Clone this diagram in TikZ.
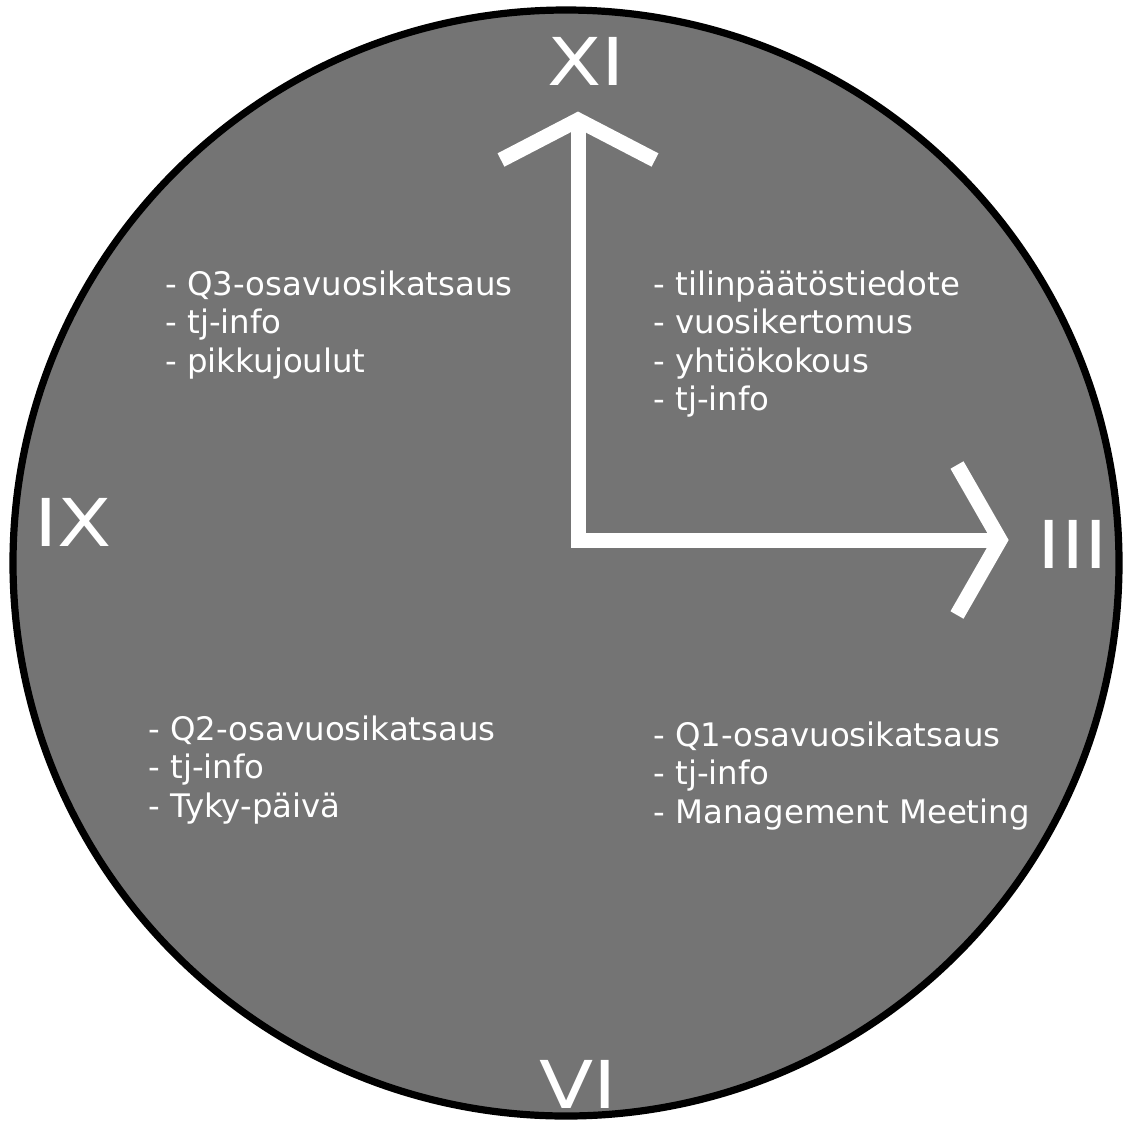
\documentclass[tikz,border=0pt]{standalone}
\usepackage{fontspec}
\setmainfont{DejaVu Sans}
\newfontfamily\numfont[FakeStretch=1.2]{DejaVu Sans}
\begin{document}
\begin{tikzpicture}[x=0.5pt,y=-0.5pt,
  face/.style={circle,draw=black,line width=3.6pt,fill=facegray,minimum size=553pt,inner sep=0pt},
  hand/.style={draw=white,line width=7.5pt,line join=miter,line cap=butt},
  numeral/.style={text=white,inner sep=0pt,font=\numfont\fontsize{33}{33}\selectfont},
  agenda/.style={text=white,inner sep=0pt,anchor=north west,align=left,font=\fontsize{16.2}{19.25}\selectfont}]
\definecolor{facegray}{RGB}{116,116,116}
\useasboundingbox (0,0) rectangle (1131,1121);
% clock face
\node[face] (dial) at (566,563) {};
% hour numerals
\node[numeral] (n12) at (586,61) {XI};
\node[numeral] (n3) at (1073,544) {III};
\node[numeral] (n6) at (578,1084) {VI};
\node[numeral] (n9) at (73,522) {IX};
% hands
\coordinate (hub) at (578,540);
\coordinate (tipup) at (578,120);
\coordinate (tipright) at (1000,540);
\coordinate (upL) at (501,160);
\coordinate (upR) at (655,160);
\coordinate (rtT) at (957,465);
\coordinate (rtB) at (957,615);
\path[hand] (tipup) -- (hub) -- (tipright);
\path[hand] (upL) -- (tipup) -- (upR);
\path[hand] (rtT) -- (tipright) -- (rtB);
% quarter agendas
\node[agenda] (q4) at (165,270) {- Q3-osavuosikatsaus\\- tj-info\\- pikkujoulut};
\node[agenda] (q1) at (653,270) {- tilinpäätöstiedote\\- vuosikertomus\\- yhtiökokous\\- tj-info};
\node[agenda] (q3) at (148,715) {- Q2-osavuosikatsaus\\- tj-info\\- Tyky-päivä};
\node[agenda] (q2) at (653,721) {- Q1-osavuosikatsaus\\- tj-info\\- Management Meeting};
\end{tikzpicture}
\end{document}
